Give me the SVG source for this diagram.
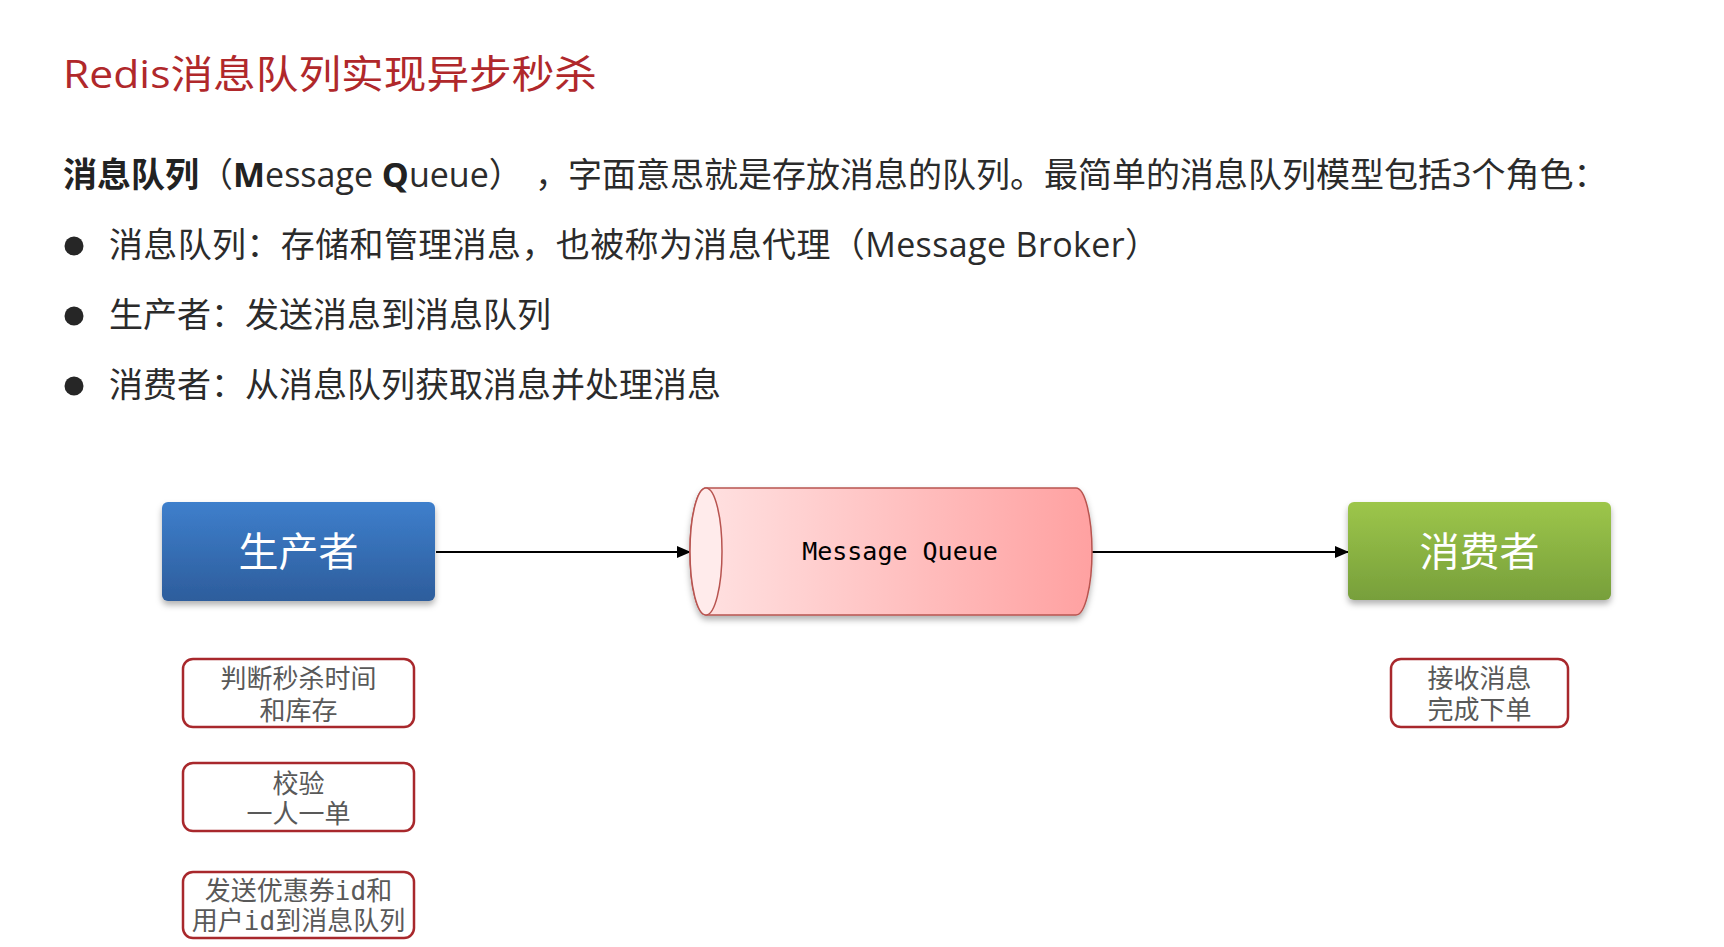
<svg xmlns="http://www.w3.org/2000/svg" width="1724" height="947" viewBox="0 0 1724 947">
<style>
  .title{font-family:"Open Sans","Noto Sans CJK SC",sans-serif;font-size:39px;fill:#B0282B;}
  .body{font-family:"Open Sans","Noto Sans CJK SC",sans-serif;font-size:34px;fill:#2B2B2B;}
  .b{font-weight:bold;fill:#222;}
  .big{font-family:"Open Sans","Noto Sans CJK SC",sans-serif;font-size:40px;fill:#FFFFFF;text-anchor:middle;}
  .mq{font-family:"DejaVu Sans Mono","Liberation Mono",monospace;font-size:25px;fill:#000;text-anchor:middle;}
  .note{font-family:"DejaVu Sans Mono","Noto Sans CJK SC",monospace;font-size:26px;fill:#595959;text-anchor:middle;}
  .nbox{fill:#FFFFFF;stroke:#A8282C;stroke-width:2.5;}
  .conn{stroke:#000;stroke-width:2;fill:none;marker-end:url(#arrow);}
</style>
<defs>
  <linearGradient id="gBlue" x1="0" y1="0" x2="0" y2="1">
    <stop offset="0" stop-color="#3E7FCC"/>
    <stop offset="1" stop-color="#2D5D9C"/>
  </linearGradient>
  <linearGradient id="gGreen" x1="0" y1="0" x2="0" y2="1">
    <stop offset="0" stop-color="#9DC64A"/>
    <stop offset="1" stop-color="#779F3B"/>
  </linearGradient>
  <linearGradient id="gRed" x1="0" y1="0" x2="1" y2="0">
    <stop offset="0" stop-color="#FFE3E3"/>
    <stop offset="1" stop-color="#FFA1A1"/>
  </linearGradient>
  <filter id="shadow" x="-10%" y="-10%" width="120%" height="130%">
    <feDropShadow dx="0" dy="4" stdDeviation="3" flood-color="#000" flood-opacity="0.3"/>
  </filter>
  <marker id="arrow" markerWidth="14" markerHeight="12" refX="13" refY="6" orient="auto" markerUnits="userSpaceOnUse">
    <path d="M0,0 L14,6 L0,12 Z" fill="#000"/>
  </marker>
</defs>
<rect width="1724" height="947" fill="#FFFFFF"/>

<g id="header">
  <text class="title" x="63" y="88" textLength="534" lengthAdjust="spacingAndGlyphs">Redis消息队列实现异步秒杀</text>
  <text class="body" x="63" y="187"><tspan class="b">消息队列</tspan>（<tspan class="b">M</tspan>essage <tspan class="b">Q</tspan>ueue）</text>
  <text class="body" x="535" y="187">，</text>
  <text class="body" x="568" y="187">字面意思就是存放消息的队列。最简单的消息队列模型包括3个角色：</text>
  <circle cx="74" cy="246" r="9.5" fill="#262626"/>
  <text class="body" x="109" y="257" textLength="1050">消息队列：存储和管理消息，也被称为消息代理（Message Broker）</text>
  <circle cx="74" cy="316" r="9.5" fill="#262626"/>
  <text class="body" x="109" y="327">生产者：发送消息到消息队列</text>
  <circle cx="74" cy="386" r="9.5" fill="#262626"/>
  <text class="body" x="109" y="397">消费者：从消息队列获取消息并处理消息</text>
</g>

<g id="connectors">
  <line class="conn" x1="436" y1="552" x2="690" y2="552"/>
  <line class="conn" x1="1092" y1="552" x2="1348" y2="552"/>
</g>

<g id="producer">
  <rect x="162" y="502" width="273" height="99" rx="6" fill="url(#gBlue)" filter="url(#shadow)"/>
  <text class="big" x="298.5" y="566">生产者</text>
</g>

<g id="queue">
  <g filter="url(#shadow)">
    <path d="M706,488 L1076,488 A16,63.5 0 0 1 1076,615 L706,615 A16,63.5 0 0 1 706,488 Z" fill="url(#gRed)" stroke="#B85450" stroke-width="1.5"/>
  </g>
  <ellipse cx="706" cy="551.5" rx="16" ry="63.5" fill="#FFEBEB" stroke="#B85450" stroke-width="1.5"/>
  <text class="mq" x="900" y="560">Message Queue</text>
</g>

<g id="consumer">
  <rect x="1348" y="502" width="263" height="98" rx="6" fill="url(#gGreen)" filter="url(#shadow)"/>
  <text class="big" x="1479.5" y="566">消费者</text>
</g>

<g id="note-check-time">
  <rect class="nbox" x="183" y="659" width="231" height="68" rx="10"/>
  <text class="note" x="298.5" y="688">判断秒杀时间</text>
  <text class="note" x="298.5" y="720">和库存</text>
</g>

<g id="note-one-per-user">
  <rect class="nbox" x="183" y="763" width="231" height="68" rx="10"/>
  <text class="note" x="298.5" y="793">校验</text>
  <text class="note" x="298.5" y="823">一人一单</text>
</g>

<g id="note-send">
  <rect class="nbox" x="183" y="872" width="231" height="66" rx="10"/>
  <text class="note" x="298.5" y="900">发送优惠券id和</text>
  <text class="note" x="298.5" y="930">用户id到消息队列</text>
</g>

<g id="note-receive">
  <rect class="nbox" x="1391" y="659" width="177" height="68" rx="10"/>
  <text class="note" x="1479.5" y="688">接收消息</text>
  <text class="note" x="1479.5" y="719">完成下单</text>
</g>
</svg>
